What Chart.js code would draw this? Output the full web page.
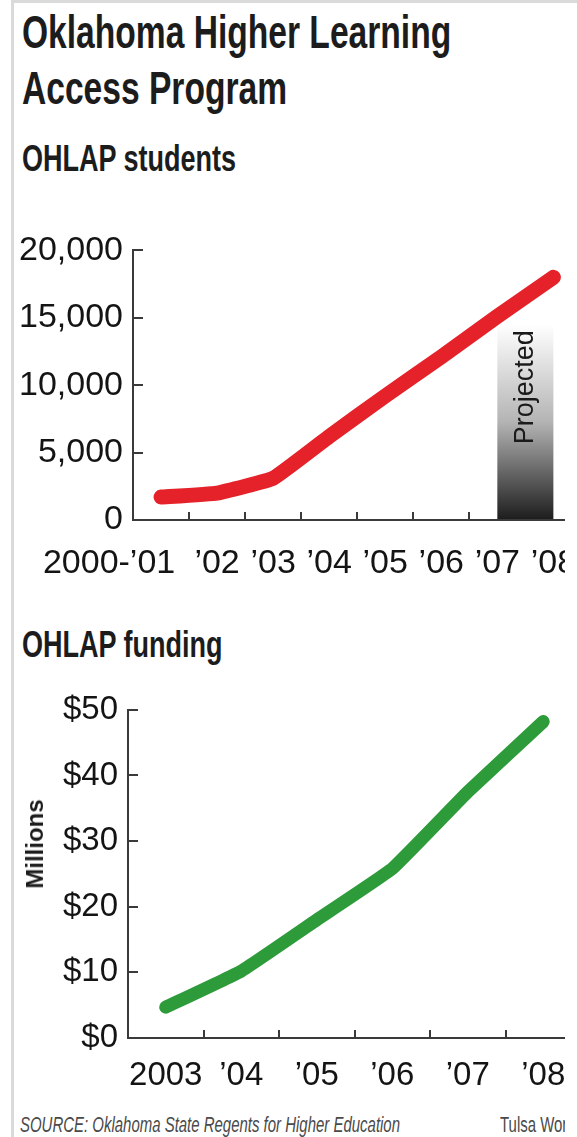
<!DOCTYPE html>
<html>
<head>
<meta charset="utf-8">
<script src="https://cdn.jsdelivr.net/npm/chart.js@4.4.0/dist/chart.umd.min.js"></script>
<style>
  body { margin:0; background:#fff; width:577px; height:1137px; overflow:hidden; position:relative; font-family:"Liberation Sans", Arial, sans-serif; }
  #frameTop { position:absolute; left:11px; top:0; width:566px; height:3px; background:#dadada; }
  #frameLeft { position:absolute; left:11px; top:0; width:3px; height:1137px; background:#dadada; }
  #page { position:absolute; left:0; top:0; width:565px; height:1137px; overflow:hidden; }
  .head { position:absolute; left:22px; font-family:"Liberation Sans", Arial, sans-serif; font-weight:bold; color:#1c1c1c; transform:scaleX(0.73); transform-origin:left top; white-space:nowrap; }
  #title { top:4px; font-size:46px; line-height:56px; }
  #sub1 { top:140px; font-size:37px; line-height:37px; }
  #sub2 { top:626px; font-size:37px; line-height:37px; }
  .wrap { position:absolute; left:0; overflow:hidden; }
  #wrap1 { top:220px; width:565px; height:380px; }
  #wrap2 { top:680px; width:565px; height:420px; }
  #millions { position:absolute; left:35px; top:844px; width:0; height:0; }
  #millions span { position:absolute; transform:translate(-50%,-50%) rotate(-90deg); font-weight:bold; font-size:24px; color:#1c1c1c; white-space:nowrap; }
  .foot { position:absolute; top:1114px; font-family:"Liberation Sans", Arial, sans-serif; font-size:22px; line-height:22px; color:#4a4a4a; transform:scaleX(0.68); transform-origin:left top; white-space:nowrap; }
  #source { left:20px; font-style:italic; }
  #credit { left:500px; }
</style>
</head>
<body>
<div id="frameTop"></div>
<div id="frameLeft"></div>
<div id="page">
  <div class="head" id="title">Oklahoma Higher Learning<br>Access Program</div>
  <div class="head" id="sub1">OHLAP students</div>
  <div class="wrap" id="wrap1"><canvas id="studentsChart" width="600" height="380"></canvas></div>
  <div class="head" id="sub2">OHLAP funding</div>
  <div class="wrap" id="wrap2"><canvas id="fundingChart" width="600" height="420"></canvas></div>
  <div id="millions"><span>Millions</span></div>
  <div class="foot" id="source">SOURCE: Oklahoma State Regents for Higher Education</div>
  <div class="foot" id="credit">Tulsa World</div>
</div>
<script>
// OHLAP students, school years
var studentYears = ['2000-’01', '’02', '’03', '’04', '’05', '’06', '’07', '’08'];
var students = [1700, 2000, 3100, 6200, 9200, 12100, 15100, 18000];
var studentTicks = [0, 5000, 10000, 15000, 20000];

// projected part of the students line (index range) and how high the shade goes
var projectedFrom = 6;
var projectedTo = 7;
var projectedTop = 14500;
var projectedLabelAt = 9850;

// OHLAP funding, millions of dollars
var fundingYears = ['2003', '’04', '’05', '’06', '’07', '’08'];
var funding = [4.7, 10.2, 18, 25.8, 37.5, 48.2];
var fundingTicks = [0, 10, 20, 30, 40, 50];

var axisColor = '#3a3a3a';
var textColor = '#141414';
var tickFont = '"Liberation Sans", Arial, sans-serif';

// tick marks point into the plot, not out of it
var innerTicks = {
  id: 'innerTicks',
  beforeDatasetsDraw: function(chart) {
    var x = chart.scales.x, y = chart.scales.y, ctx = chart.ctx;
    ctx.save();
    ctx.strokeStyle = axisColor;
    ctx.lineWidth = 2;
    ctx.beginPath();
    y.ticks.forEach(function(t) {
      var py = Math.round(y.getPixelForValue(t.value));
      ctx.moveTo(x.left, py);
      ctx.lineTo(x.left + 10, py);
    });
    for (var i = 1; i < x.ticks.length; i++) {
      var px = Math.round((x.getPixelForValue(i - 1) + x.getPixelForValue(i)) / 2);
      ctx.moveTo(px, y.bottom);
      ctx.lineTo(px, y.bottom - 8);
    }
    ctx.stroke();
    ctx.restore();
  }
};

var projectedBand = {
  id: 'projectedBand',
  beforeDatasetsDraw: function(chart) {
    var x = chart.scales.x, y = chart.scales.y, ctx = chart.ctx;
    var x0 = x.getPixelForValue(projectedFrom);
    var x1 = x.getPixelForValue(projectedTo);
    var y0 = y.getPixelForValue(projectedTop);
    var y1 = y.bottom - 1;
    var g = ctx.createLinearGradient(0, y0, 0, y1);
    g.addColorStop(0, '#ffffff');
    g.addColorStop(0.5, '#b4b4b4');
    g.addColorStop(1, '#1e1e1e');
    ctx.save();
    ctx.fillStyle = g;
    ctx.fillRect(x0, y0, x1 - x0, y1 - y0);
    ctx.translate((x0 + x1) / 2, y.getPixelForValue(projectedLabelAt));
    ctx.rotate(-Math.PI / 2);
    ctx.font = '27px ' + tickFont;
    ctx.fillStyle = '#1a1a1a';
    ctx.textAlign = 'center';
    ctx.textBaseline = 'middle';
    ctx.fillText('Projected', 0, 0);
    ctx.restore();
  }
};

function axes(opts) {
  return {
    x: {
      type: 'category',
      offset: true,
      grid: { display: false, drawTicks: false },
      border: { display: true, color: axisColor, width: 2 },
      ticks: {
        autoSkip: false, maxRotation: 0, minRotation: 0,
        padding: opts.xPad, color: textColor,
        font: { family: tickFont, size: opts.size },
        callback: opts.xLabel
      },
      afterFit: function(s) { s.height = opts.xHeight; }
    },
    y: {
      min: opts.ticks[0],
      max: opts.ticks[opts.ticks.length - 1],
      grid: { display: false, drawTicks: false },
      border: { display: true, color: axisColor, width: 2 },
      afterBuildTicks: function(s) { s.ticks = opts.ticks.map(function(v) { return { value: v }; }); },
      ticks: {
        padding: 10, color: textColor,
        font: { family: tickFont, size: opts.size },
        callback: opts.yLabel
      },
      afterFit: function(s) { s.width = opts.yWidth; }
    }
  };
}

new Chart(document.getElementById('studentsChart'), {
  type: 'line',
  data: {
    labels: studentYears,
    datasets: [{
      data: students,
      borderColor: '#e52129',
      borderWidth: 15,
      borderCapStyle: 'round',
      borderJoinStyle: 'round',
      pointRadius: 0,
      tension: 0.1,
      fill: false,
      clip: false
    }]
  },
  options: {
    responsive: false,
    animation: false,
    layout: { padding: { top: 28, right: 15, left: 0, bottom: 0 } },
    plugins: { legend: { display: false }, tooltip: { enabled: false } },
    scales: axes({
      size: 34, xPad: 23, xHeight: 80, yWidth: 133, ticks: studentTicks,
      xLabel: function(v, i) {
        var t = this.getLabelForValue(v);
        // the first, long label sits left of its slot
        return i === 0 ? t + '           ' : t;
      },
      yLabel: function(v) { return v.toLocaleString('en-US'); }
    })
  },
  plugins: [innerTicks, projectedBand]
});

new Chart(document.getElementById('fundingChart'), {
  type: 'line',
  data: {
    labels: fundingYears,
    datasets: [{
      data: funding,
      borderColor: '#2d9b3a',
      borderWidth: 13,
      borderCapStyle: 'round',
      borderJoinStyle: 'round',
      pointRadius: 0,
      tension: 0.1,
      fill: false,
      clip: false
    }]
  },
  options: {
    responsive: false,
    animation: false,
    layout: { padding: { top: 26, right: 19, left: 0, bottom: 0 } },
    plugins: { legend: { display: false }, tooltip: { enabled: false } },
    scales: axes({
      size: 33, xPad: 18, xHeight: 62, yWidth: 128, ticks: fundingTicks,
      xLabel: function(v) { return this.getLabelForValue(v); },
      yLabel: function(v) { return '$' + v; }
    })
  },
  plugins: [innerTicks]
});
</script>
</body>
</html>
